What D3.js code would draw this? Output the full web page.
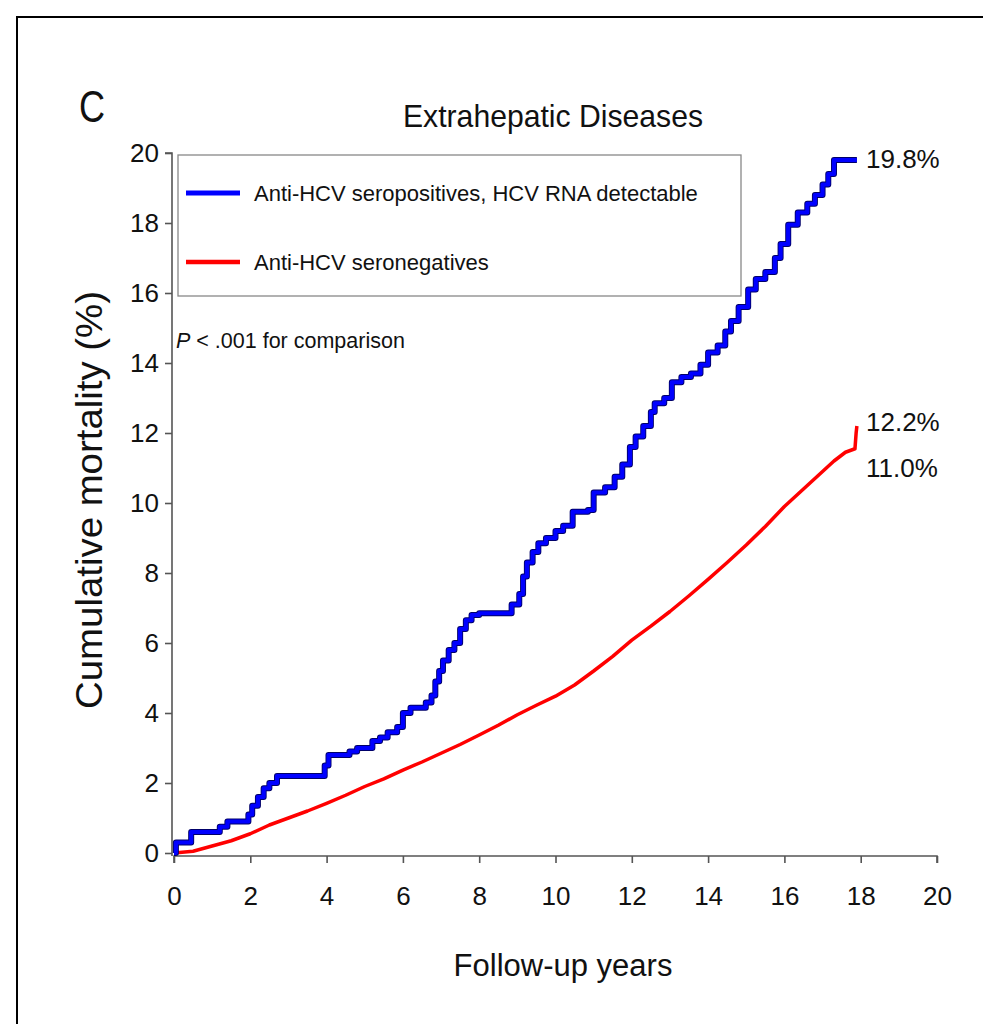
<!DOCTYPE html>
<html>
<head>
<meta charset="utf-8">
<script src="https://cdn.jsdelivr.net/npm/d3@7"></script>
<style>
  html, body { margin: 0; padding: 0; background: #fff; }
  svg { display: block; }
  text { font-family: "Liberation Sans", Arial, sans-serif; fill: #111; }
</style>
</head>
<body>
<script>
// ---- data ----
const xTicks = [0, 2, 4, 6, 8, 10, 12, 14, 16, 18, 20];
const yTicks = [0, 2, 4, 6, 8, 10, 12, 14, 16, 18, 20];

// Anti-HCV seropositives, HCV RNA detectable (step curve: [year, cumulative mortality %])
const blueYears = [0, 0.05, 0.45, 1.1, 1.2, 1.4, 1.95, 2.05, 2.2, 2.35, 2.5, 2.7, 3.95, 4.05, 4.6, 4.8, 5.2, 5.4, 5.6, 5.85, 6.0, 6.2, 6.6, 6.75, 6.85, 6.95, 7.05, 7.2, 7.35, 7.5, 7.65, 7.8, 8.0, 8.85, 9.05, 9.15, 9.25, 9.4, 9.55, 9.75, 10.0, 10.2, 10.45, 10.85, 11.0, 11.3, 11.55, 11.75, 11.95, 12.1, 12.3, 12.5, 12.6, 12.85, 13.05, 13.3, 13.55, 13.8, 14.0, 14.25, 14.45, 14.6, 14.8, 15.05, 15.25, 15.5, 15.75, 15.9, 16.1, 16.35, 16.6, 16.8, 17.0, 17.15, 17.3, 17.9];
const blueValues = [0, 0.3, 0.6, 0.6, 0.75, 0.9, 1.1, 1.35, 1.6, 1.85, 2.0, 2.2, 2.5, 2.8, 2.9, 3.0, 3.2, 3.3, 3.45, 3.6, 4.0, 4.15, 4.3, 4.5, 4.9, 5.2, 5.5, 5.8, 6.0, 6.4, 6.65, 6.8, 6.85, 7.1, 7.4, 7.9, 8.3, 8.6, 8.85, 9.0, 9.2, 9.35, 9.75, 9.8, 10.3, 10.45, 10.75, 11.1, 11.6, 11.9, 12.2, 12.6, 12.85, 13.0, 13.45, 13.6, 13.7, 13.95, 14.3, 14.5, 14.9, 15.2, 15.6, 16.1, 16.4, 16.6, 17.0, 17.4, 17.95, 18.3, 18.55, 18.8, 19.1, 19.4, 19.8, 19.8];

// Anti-HCV seronegatives
const redYears = [0, 0.5, 1.0, 1.5, 2.0, 2.5, 3.0, 3.5, 4.0, 4.5, 5.0, 5.5, 6.0, 6.5, 7.0, 7.5, 8.0, 8.5, 9.0, 9.5, 10.0, 10.5, 11.0, 11.5, 12.0, 12.5, 13.0, 13.5, 14.0, 14.5, 15.0, 15.5, 16.0, 16.5, 17.0, 17.3, 17.6, 17.85, 17.88, 17.9];
const redValues = [0, 0.05, 0.2, 0.35, 0.55, 0.8, 1.0, 1.2, 1.42, 1.65, 1.9, 2.12, 2.37, 2.6, 2.85, 3.1, 3.37, 3.65, 3.95, 4.22, 4.48, 4.8, 5.2, 5.62, 6.08, 6.48, 6.9, 7.35, 7.82, 8.3, 8.8, 9.33, 9.9, 10.4, 10.9, 11.2, 11.45, 11.55, 12.0, 12.2];

const seriesNames = ["Anti-HCV seropositives, HCV RNA detectable", "Anti-HCV seronegatives"];
const seriesColors = ["#0000ff", "#ff0000"];
const endLabels = ["19.8%", "12.2%", "11.0%"];
const endLabelValues = [19.8, 12.2, 11.0];

// ---- drawing ----
const W = 983, H = 1024;
const svg = d3.select("body").append("svg").attr("width", W).attr("height", H);

// outer frame (left + top visible)
svg.append("rect").attr("x", 17).attr("y", 17).attr("width", 1000).attr("height", 1050)
  .attr("fill", "none").attr("stroke", "#000").attr("stroke-width", 2);

const x = d3.scaleLinear().domain([0, 20]).range([174, 937]);
const y = d3.scaleLinear().domain([0, 20]).range([853, 153]);

const axisColor = "#555";

// x axis
const gx = svg.append("g").attr("transform", "translate(0,856)")
  .call(d3.axisBottom(x).tickValues(xTicks).tickSize(7).tickPadding(24).tickFormat(d3.format("d")));
gx.selectAll("path, line").attr("stroke", axisColor).attr("stroke-width", 1.6);
gx.selectAll("text").style("font-size", "26px").attr("fill", "#111");
gx.select(".domain").attr("d", `M${x(0)},7V0H${x(20)}V7`);

// y axis
const gy = svg.append("g").attr("transform", "translate(172,0)")
  .call(d3.axisLeft(y).tickValues(yTicks).tickSize(7).tickPadding(6).tickFormat(d3.format("d")));
gy.selectAll("path, line").attr("stroke", axisColor).attr("stroke-width", 1.6);
gy.selectAll("text").style("font-size", "26px").attr("fill", "#111");
gy.select(".domain").attr("d", `M-7,${y(20)}H0V${y(0) + 3}`);

// legend box
svg.append("rect").attr("x", 178).attr("y", 155).attr("width", 563).attr("height", 141)
  .attr("fill", "#fff").attr("stroke", "#888").attr("stroke-width", 1.3);

const legendY = [193, 262];
seriesNames.forEach((name, i) => {
  svg.append("line").attr("x1", 186).attr("x2", 240).attr("y1", legendY[i]).attr("y2", legendY[i])
    .attr("stroke", seriesColors[i]).attr("stroke-width", i === 0 ? 5 : 4.5);
  svg.append("text").attr("x", 254).attr("y", legendY[i]).attr("dy", "0.35em")
    .style("font-size", "22px").text(name);
});

// P value text
const pText = svg.append("text").attr("x", 176).attr("y", 340).attr("dy", "0.35em").style("font-size", "21.5px");
pText.append("tspan").style("font-style", "italic").text("P");
pText.append("tspan").text(" < .001 for comparison");

// lines
const blueData = blueYears.map((d, i) => [d, blueValues[i]]);
const redData = redYears.map((d, i) => [d, redValues[i]]);

const stepLine = d3.line().x(d => x(d[0])).y(d => y(d[1])).curve(d3.curveStepAfter);
const plainLine = d3.line().x(d => x(d[0])).y(d => y(d[1]));

svg.append("path").datum(redData).attr("d", plainLine)
  .attr("fill", "none").attr("stroke", seriesColors[1]).attr("stroke-width", 3.5).attr("stroke-linejoin", "round");

svg.append("path").datum(blueData).attr("d", stepLine)
  .attr("fill", "none").attr("stroke", "#00006a").attr("stroke-width", 6).attr("stroke-linejoin", "round");
svg.append("path").datum(blueData).attr("d", stepLine)
  .attr("fill", "none").attr("stroke", seriesColors[0]).attr("stroke-width", 4.2).attr("stroke-linejoin", "round");

// end labels
const endOffsets = [-1, -4, 0];
endLabels.forEach((t, i) => {
  svg.append("text").attr("x", 866).attr("y", y(endLabelValues[i]) + endOffsets[i]).attr("dy", "0.35em")
    .style("font-size", "26px").text(t);
});

// titles
svg.append("text").attr("transform", "translate(79,122) scale(0.82,1)").style("font-size", "44px").text("C");
svg.append("text").attr("x", 553).attr("y", 127).attr("text-anchor", "middle").style("font-size", "32px")
  .attr("textLength", 300).attr("lengthAdjust", "spacingAndGlyphs")
  .text("Extrahepatic Diseases");
svg.append("text").attr("x", 563).attr("y", 965).attr("dy", "0.35em").attr("text-anchor", "middle")
  .style("font-size", "31px").text("Follow-up years");
svg.append("text").attr("transform", "translate(89,500) rotate(-90)").attr("dy", "0.35em")
  .attr("text-anchor", "middle").style("font-size", "37px")
  .attr("textLength", 418).attr("lengthAdjust", "spacingAndGlyphs")
  .text("Cumulative mortality (%)");
</script>
</body>
</html>
